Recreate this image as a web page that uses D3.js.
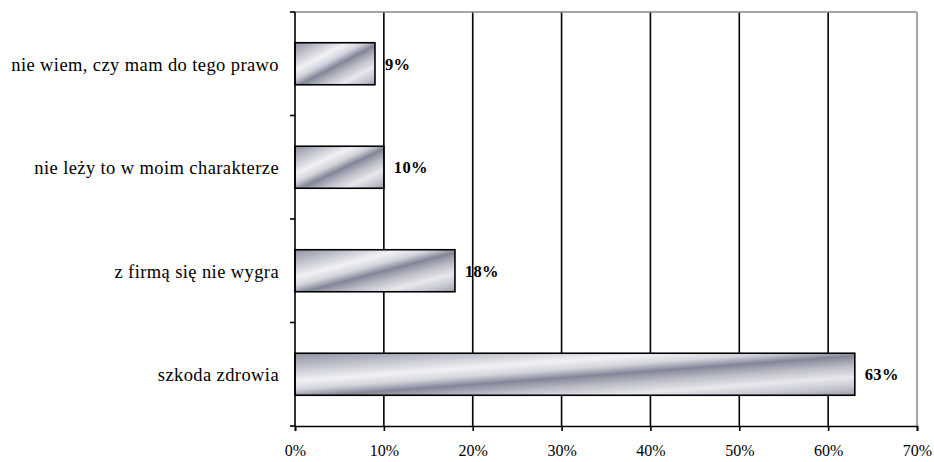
<!DOCTYPE html>
<html><head><meta charset="utf-8">
<script src="https://cdn.jsdelivr.net/npm/d3@7"></script>
<style>body{margin:0;background:#fff}svg{display:block}</style>
</head><body><svg id="c" width="934" height="462"></svg>
<script>
const categories = ["nie wiem, czy mam do tego prawo","nie leży to w moim charakterze","z firmą się nie wygra","szkoda zdrowia"];
const values = [9,10,18,63];
const ticks = [0,10,20,30,40,50,60,70];

const FONT = "'Liberation Serif', 'Times New Roman', serif";
const svg = d3.select("#c");
const L=295, R=917, T=12, B=426;
const x = d3.scaleLinear().domain([0,70]).range([L,R]);
const y = d3.scaleBand().domain(categories).range([T,B]).paddingInner(0.594).paddingOuter(0.297);

const defs = svg.append("defs");
const g = defs.append("linearGradient").attr("id","bg").attr("x1",0).attr("y1",0).attr("x2",1).attr("y2",1);
[[0,"#8f92a3"],[0.18,"#c3c5cf"],[0.33,"#f2f2f5"],[0.43,"#d4d5dc"],[0.53,"#838697"],[0.65,"#bbbdc7"],[0.78,"#e8e8ed"],[0.9,"#c4c6cf"],[1,"#9a9cab"]]
 .forEach(s=>g.append("stop").attr("offset",s[0]).attr("stop-color",s[1]));

// gridlines
svg.append("g").selectAll("line").data(ticks.filter(t=>t>0&&t<70)).join("line")
 .attr("x1",d=>x(d)).attr("x2",d=>x(d)).attr("y1",T).attr("y2",B)
 .attr("stroke","#000").attr("stroke-width",1.6);
// frame top/right
svg.append("line").attr("x1",L).attr("x2",R).attr("y1",T).attr("y2",T).attr("stroke","#888").attr("stroke-width",1.5);
svg.append("line").attr("x1",R).attr("x2",R).attr("y1",T).attr("y2",B).attr("stroke","#888").attr("stroke-width",1.5);

// bars
svg.append("g").selectAll("rect").data(values).join("rect")
 .attr("x",x(0)).attr("y",(d,i)=>y(categories[i]))
 .attr("width",d=>x(d)-x(0)).attr("height",y.bandwidth())
 .attr("fill","url(#bg)").attr("stroke","#000").attr("stroke-width",1.6);

// value labels
svg.append("g").selectAll("text").data(values).join("text")
 .attr("x",d=>x(d)+10).attr("y",(d,i)=>y(categories[i])+y.bandwidth()/2)
 .attr("dy","0.35em").attr("font-family",FONT).attr("letter-spacing",0.3)
 .attr("font-size",16.5).attr("font-weight","bold").text(d=>d+"%");

// left axis
const yAxisBounds = [T].concat(categories.map(c=>y(c)-y.step()*y.paddingInner()/2).slice(1)).concat([B]);
svg.append("line").attr("x1",L).attr("x2",L).attr("y1",T).attr("y2",B).attr("stroke","#000").attr("stroke-width",1.6);
svg.append("g").selectAll("line").data(yAxisBounds).join("line")
 .attr("x1",L-5).attr("x2",L).attr("y1",d=>d).attr("y2",d=>d).attr("stroke","#000").attr("stroke-width",1.6);
svg.append("g").selectAll("text").data(categories).join("text")
 .attr("x",279).attr("y",d=>y(d)+y.bandwidth()/2).attr("dy","0.38em").attr("text-anchor","end")
 .attr("font-family",FONT).attr("font-size",18.5).attr("letter-spacing",0.4).text(d=>d);

// bottom axis
const xa = svg.append("g").attr("transform",`translate(0,${B})`)
 .call(d3.axisBottom(x).tickValues(ticks).tickFormat(d=>d+"%").tickSize(5).tickPadding(14));
xa.select(".domain").attr("stroke","#000").attr("stroke-width",1.6);
xa.selectAll(".tick line").attr("stroke","#000").attr("stroke-width",1.6);
xa.selectAll("text").attr("font-family",FONT).attr("font-size",16).attr("fill","#000");
</script></body></html>
